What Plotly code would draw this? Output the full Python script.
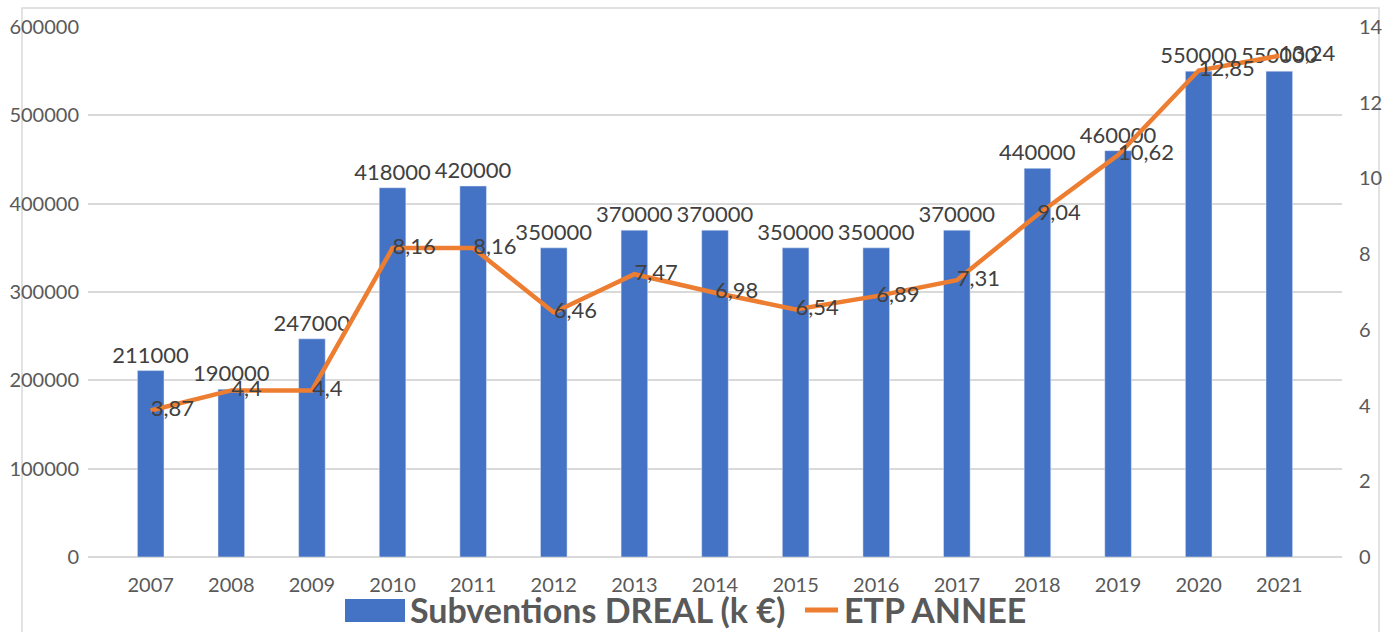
import plotly.graph_objects as go

# data
years = ["2007", "2008", "2009", "2010", "2011", "2012", "2013", "2014",
         "2015", "2016", "2017", "2018", "2019", "2020", "2021"]
subventions = [211000, 190000, 247000, 418000, 420000, 350000, 370000, 370000,
               350000, 350000, 370000, 440000, 460000, 550000, 550000]
etp = [3.87, 4.4, 4.4, 8.16, 8.16, 6.46, 7.47, 6.98, 6.54, 6.89, 7.31,
       9.04, 10.62, 12.85, 13.24]

etp_labels = [str(v).replace(".", ",") for v in etp]

font_name = "Lato"
grey = "#595959"
label_grey = "#404040"
blue = "#4472C4"
orange = "#ED7D31"

W, H = 1386, 632
L, R, T, B = 88, 44, 27, 75
pw, ph = W - L - R, H - T - B


def px(x):  # window pixel -> paper x
    return (x - L) / pw


def py(y):  # window pixel -> paper y
    return (H - B - y) / ph


fig = go.Figure()

fig.add_trace(go.Bar(
    x=years, y=subventions, name="Subventions DREAL (k €)",
    marker_color=blue, width=0.33,
    text=[str(v) for v in subventions], textposition="outside",
    constraintext="none",
    textfont=dict(size=22, color=label_grey, family=font_name),
    cliponaxis=False,
))

fig.add_trace(go.Scatter(
    x=years, y=etp, name="ETP ANNEE", yaxis="y2",
    mode="lines+text", line=dict(color=orange, width=4.5),
    text=etp_labels, textposition="middle right",
    textfont=dict(size=22, color=label_grey, family=font_name),
    cliponaxis=False,
))

fig.update_layout(
    width=W, height=H,
    margin=dict(l=L, r=R, t=T, b=B),
    plot_bgcolor="white", paper_bgcolor="white",
    font=dict(family=font_name, color=grey),
    showlegend=False,
    xaxis=dict(showline=False, ticks="outside", ticklen=10, tickcolor="white",
               tickfont=dict(size=20, color=grey), automargin=False),
    yaxis=dict(range=[0, 600000], dtick=100000, showgrid=True, gridcolor="#D9D9D9",
               gridwidth=1.5, zeroline=True, zerolinecolor="#D9D9D9", zerolinewidth=1.5,
               tickfont=dict(size=20, color=grey), ticklen=4, ticks="outside",
               tickcolor="white", tickformat="d", automargin=False),
    yaxis2=dict(range=[0, 14], dtick=2, overlaying="y", side="right", showgrid=False,
                zeroline=False, tickfont=dict(size=20, color=grey), ticks="outside",
                ticklen=12, tickcolor="white", automargin=False),
    bargap=0.6,
)

# outer chart frame
fig.add_shape(type="rect", xref="paper", yref="paper",
              x0=px(22), x1=px(1379), y0=py(660), y1=py(8),
              line=dict(color="#D9D9D9", width=1.5), layer="below")

# legend drawn by hand (wide swatch like the original)
fig.add_shape(type="rect", xref="paper", yref="paper",
              x0=px(345), x1=px(405), y0=py(622), y1=py(599),
              fillcolor=blue, line=dict(width=0))
fig.add_annotation(xref="paper", yref="paper", x=px(408), y=py(609),
                   xanchor="left", yanchor="middle", showarrow=False,
                   text="<b>Subventions DREAL (k €)</b>",
                   font=dict(size=34, color=grey, family=font_name))
fig.add_shape(type="line", xref="paper", yref="paper",
              x0=px(805), x1=px(838), y0=py(610), y1=py(610),
              line=dict(color=orange, width=5))
fig.add_annotation(xref="paper", yref="paper", x=px(842), y=py(609),
                   xanchor="left", yanchor="middle", showarrow=False,
                   text="<b>ETP ANNEE</b>",
                   font=dict(size=34, color=grey, family=font_name))

# drop the default 8px body margin so the figure fills the window exactly
fig.write_html("out.html", config={"displayModeBar": False},
               post_script="document.body.style.margin='0';"
                           "document.body.style.overflow='hidden';")
